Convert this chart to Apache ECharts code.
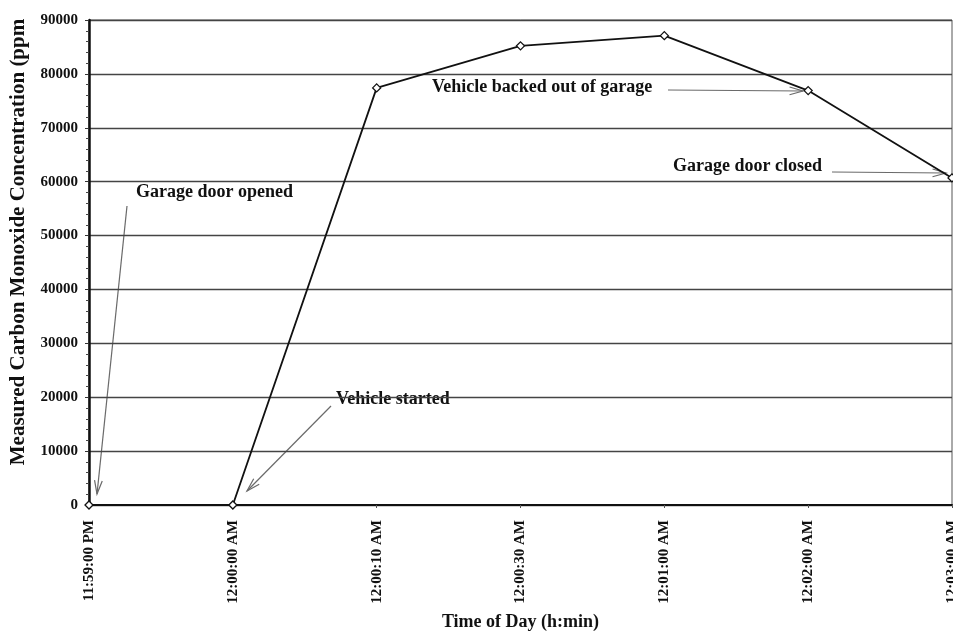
<!DOCTYPE html>
<html>
<head>
<meta charset="utf-8">
<script src="https://cdn.jsdelivr.net/npm/echarts@6/dist/echarts.min.js"></script>
<style>html,body{margin:0;padding:0;background:#fff}#c{width:953px;height:632px}</style>
</head>
<body>
<div id="c"></div>
<script>
var categories = ['11:59:00 PM', '12:00:00 AM', '12:00:10 AM', '12:00:30 AM', '12:01:00 AM', '12:02:00 AM', '12:03:00 AM'];
var coValues = [0, 0, 77400, 85200, 87100, 76900, 60700];
var yTicks = [0, 10000, 20000, 30000, 40000, 50000, 60000, 70000, 80000, 90000];
var annotations = [
  {text: 'Garage door opened', tx: 136, ty: 192, x1: 127, y1: 206, x2: 97, y2: 494},
  {text: 'Vehicle started', tx: 336, ty: 399, x1: 331, y1: 406, x2: 247, y2: 491},
  {text: 'Vehicle backed out of garage', tx: 432, ty: 87, x1: 668, y1: 90, x2: 803, y2: 91},
  {text: 'Garage door closed', tx: 673, ty: 166, x1: 832, y1: 172, x2: 946, y2: 173}
];

var FONT = 'Liberation Serif';
var chart = echarts.init(document.getElementById('c'));

var graphics = [];
annotations.forEach(function (a) {
  graphics.push({type: 'text', x: a.tx, y: a.ty,
    style: {text: a.text, font: 'bold 18px "' + FONT + '"', fill: '#111', textVerticalAlign: 'middle', verticalAlign: 'middle'}});
  graphics.push({type: 'line', shape: {x1: a.x1, y1: a.y1, x2: a.x2, y2: a.y2},
    style: {stroke: '#6a6a6a', lineWidth: 1.2}});
  var ang = Math.atan2(a.y2 - a.y1, a.x2 - a.x1);
  var L = 14, w = 0.28;
  graphics.push({type: 'polyline', shape: {points: [
    [a.x2 - L * Math.cos(ang - w), a.y2 - L * Math.sin(ang - w)],
    [a.x2, a.y2],
    [a.x2 - L * Math.cos(ang + w), a.y2 - L * Math.sin(ang + w)]
  ]}, style: {stroke: '#6a6a6a', lineWidth: 1.2, fill: null}});
});
graphics.push({type: 'text', x: 19, y: 242, rotation: Math.PI / 2,
  style: {text: 'Measured Carbon Monoxide Concentration (ppm', font: 'bold 21px "' + FONT + '"', fill: '#111',
    align: 'center', verticalAlign: 'middle', textAlign: 'center', textVerticalAlign: 'middle'}});

chart.setOption({
  animation: false,
  backgroundColor: '#fff',
  grid: {left: 89, right: 1, top: 20, bottom: 127, outerBoundsMode: 'none', containLabel: false,
    show: true, borderColor: '#555', borderWidth: 1},
  xAxis: {
    type: 'category', data: categories, boundaryGap: false,
    name: 'Time of Day (h:min)', nameLocation: 'middle', nameGap: 108,
    nameTextStyle: {fontFamily: FONT, fontWeight: 'bold', fontSize: 18, color: '#111'},
    axisLine: {lineStyle: {color: '#111', width: 2}},
    axisTick: {show: true, length: 3, lineStyle: {color: '#555'}},
    axisLabel: {rotate: 90, margin: 15, fontFamily: FONT, fontWeight: 'bold', fontSize: 15, color: '#111', interval: 0},
    splitLine: {show: false}
  },
  yAxis: {
    type: 'value', min: 0, max: 90000, interval: 10000,
    axisLine: {show: true, lineStyle: {color: '#111', width: 2.5}},
    axisTick: {show: true, length: 4, lineStyle: {color: '#333'}},
    minorTick: {show: true, splitNumber: 5, length: 3, lineStyle: {color: '#444'}},
    axisLabel: {margin: 11, fontFamily: FONT, fontWeight: 'bold', fontSize: 15, color: '#111',
      formatter: function (v) { return yTicks.indexOf(v) >= 0 ? String(v) : ''; }},
    splitLine: {show: true, lineStyle: {color: '#444', width: 1.4}}
  },
  series: [{
    type: 'line', data: coValues,
    symbol: 'diamond', symbolSize: 8, showAllSymbol: true,
    lineStyle: {color: '#111', width: 1.8},
    itemStyle: {color: '#fff', borderColor: '#111', borderWidth: 1.3}
  }],
  graphic: graphics
});
</script>
</body>
</html>
